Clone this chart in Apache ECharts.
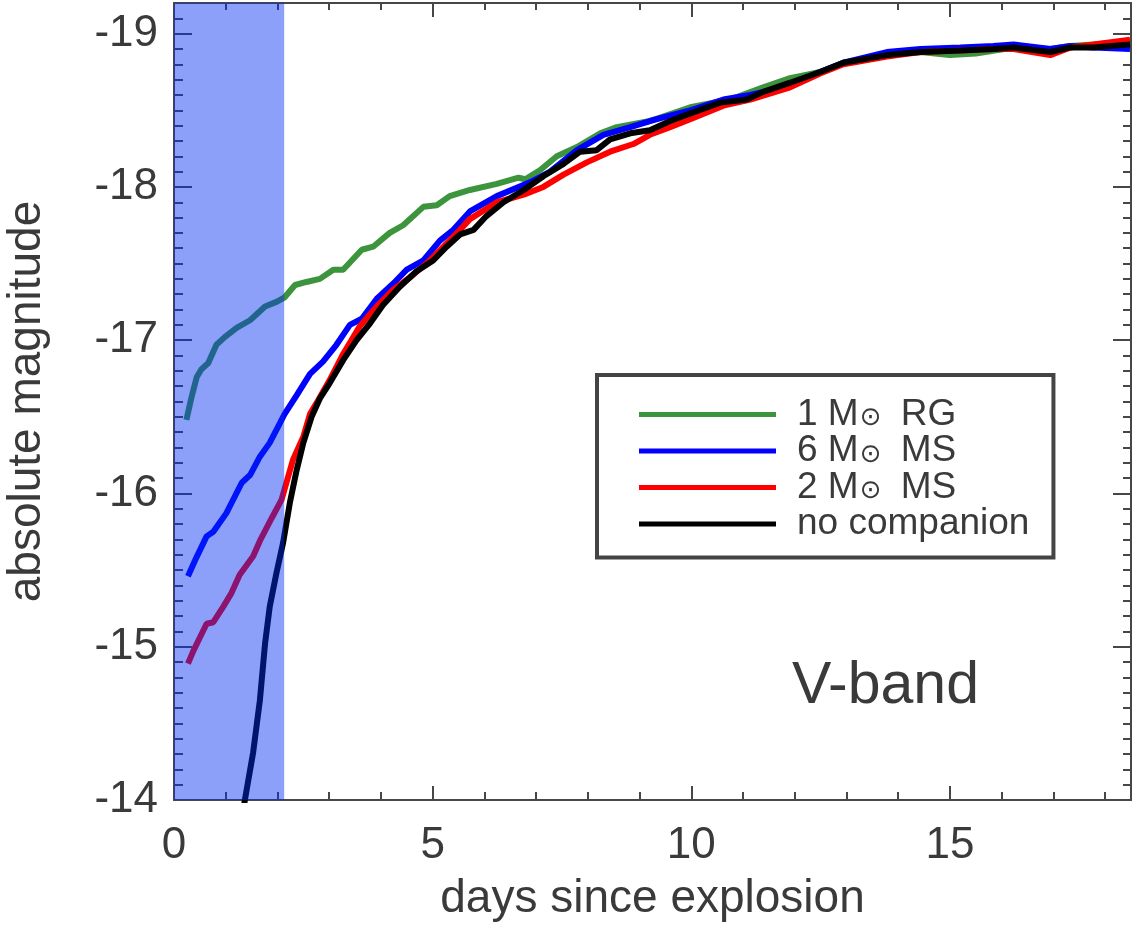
<!DOCTYPE html>
<html>
<head>
<meta charset="utf-8">
<script src="https://cdn.jsdelivr.net/npm/echarts@6/dist/echarts.min.js"></script>
<style>html,body{margin:0;padding:0;background:#fff;}#c{width:1135px;height:925px;}</style>
</head>
<body>
<div id="c"></div>
<script>
// ---- data ----
const seriesNames = ['1 M⊙ RG', '6 M⊙ MS', '2 M⊙ MS', 'no companion'];
const seriesColors = ['#3c943c', '#0000ff', '#ff0000', '#000000'];

const rgDays = [0.24,0.34,0.44,0.53,0.66,0.82,0.98,1.21,1.47,1.76,1.98,2.14,2.34,2.56,2.82,3.08,3.27,3.63,3.85,4.17,4.43,4.82,5.08,5.33,5.72,6.24,6.66,6.79,7.08,7.40,7.79,8.24,8.56,9.20,9.98,10.75,11.39,11.91,12.49,12.94,13.78,14.43,15.00,15.50,16.23,16.94,17.33,17.78,18.48];
const rgMag  = [-16.48,-16.63,-16.76,-16.81,-16.85,-16.97,-17.02,-17.08,-17.13,-17.22,-17.25,-17.28,-17.36,-17.38,-17.40,-17.46,-17.46,-17.59,-17.61,-17.70,-17.75,-17.87,-17.88,-17.94,-17.98,-18.02,-18.06,-18.05,-18.11,-18.20,-18.26,-18.35,-18.39,-18.43,-18.52,-18.57,-18.65,-18.71,-18.75,-18.81,-18.86,-18.88,-18.86,-18.87,-18.91,-18.90,-18.92,-18.93,-18.95];

const ms6Days = [0.27,0.43,0.63,0.76,1.01,1.31,1.47,1.66,1.85,2.05,2.14,2.37,2.63,2.88,3.14,3.40,3.63,3.92,4.24,4.50,4.82,5.14,5.40,5.72,6.24,6.88,7.27,7.79,8.30,8.82,9.20,9.53,9.98,10.62,11.14,11.91,12.49,12.94,13.78,14.43,15.20,15.84,16.23,16.94,17.33,17.78,18.48];
const ms6Mag  = [-15.46,-15.58,-15.72,-15.75,-15.87,-16.07,-16.12,-16.24,-16.33,-16.46,-16.52,-16.64,-16.78,-16.86,-16.97,-17.10,-17.14,-17.27,-17.37,-17.46,-17.52,-17.65,-17.72,-17.84,-17.94,-18.03,-18.10,-18.24,-18.34,-18.39,-18.43,-18.46,-18.50,-18.57,-18.60,-18.66,-18.75,-18.81,-18.88,-18.90,-18.91,-18.92,-18.93,-18.90,-18.92,-18.91,-18.90];

const ms2Days = [0.27,0.37,0.63,0.76,0.95,1.11,1.27,1.53,1.66,1.89,2.08,2.30,2.50,2.63,2.79,3.01,3.27,3.59,3.92,4.24,4.56,4.88,5.21,5.53,5.72,6.24,6.76,7.14,7.53,7.98,8.43,8.88,9.20,9.59,10.04,10.62,11.14,11.91,12.49,12.94,13.78,14.43,15.20,15.84,16.23,16.94,17.33,17.78,18.48];
const ms2Mag  = [-14.89,-14.97,-15.15,-15.16,-15.26,-15.35,-15.47,-15.59,-15.69,-15.84,-15.96,-16.22,-16.37,-16.52,-16.61,-16.74,-16.91,-17.09,-17.22,-17.33,-17.41,-17.50,-17.61,-17.72,-17.79,-17.90,-17.95,-18.00,-18.08,-18.16,-18.23,-18.28,-18.34,-18.39,-18.45,-18.53,-18.57,-18.65,-18.74,-18.80,-18.85,-18.88,-18.89,-18.90,-18.90,-18.86,-18.91,-18.93,-18.96];

const noneDays = [1.25,1.37,1.53,1.66,1.76,1.85,1.98,2.11,2.24,2.37,2.50,2.66,2.82,3.01,3.27,3.53,3.79,4.04,4.37,4.69,5.01,5.27,5.53,5.79,6.04,6.37,6.76,7.14,7.53,7.85,8.17,8.43,8.82,9.20,9.59,9.98,10.56,11.07,11.39,11.91,12.49,12.94,13.78,14.43,15.20,15.84,16.23,16.94,17.33,17.78,18.48];
const noneMag  = [-13.75,-14.00,-14.31,-14.65,-15.02,-15.26,-15.48,-15.68,-15.94,-16.15,-16.33,-16.50,-16.62,-16.72,-16.87,-17.00,-17.11,-17.23,-17.35,-17.45,-17.52,-17.61,-17.69,-17.72,-17.81,-17.90,-17.98,-18.07,-18.15,-18.23,-18.24,-18.31,-18.35,-18.37,-18.43,-18.48,-18.55,-18.57,-18.62,-18.68,-18.75,-18.81,-18.86,-18.88,-18.89,-18.90,-18.91,-18.88,-18.91,-18.91,-18.93];

const shadeRange = [0, 2.13];   // early-time shaded interval (days)
const xRange = [0, 18.5];
const yRange = [-19.2, -14];
const xMajor = [0, 5, 10, 15];
const xMinor = [1,2,3,4,6,7,8,9,11,12,13,14,16,17,18];
const yMajor = [-19, -18, -17, -16, -15, -14];
const yMinor = [];
for (let i = 0; i <= 52; i++) { const v = Math.round((-19.2 + i * 0.1) * 10) / 10; if (Math.abs(v - Math.round(v)) > 1e-6) yMinor.push(v); }

// ---- chart ----
const FONT = 'Liberation Sans';
const TXT = '#3a3a3a';
const AX = '#474747';
const chart = echarts.init(document.getElementById('c'), null, {renderer: 'canvas'});

function zip(xs, ys) { return xs.map((x, i) => [x, ys[i]]); }
const allData = [zip(rgDays, rgMag), zip(ms6Days, ms6Mag), zip(ms2Days, ms2Mag), zip(noneDays, noneMag)];

function xAx(pos, ticks, len, withLabel, withLine) {
  return {
    type: 'value', position: pos, min: xRange[0], max: xRange[1],
    axisLine: {show: withLine, onZero: false, lineStyle: {color: AX, width: 2}},
    axisTick: {show: true, inside: true, length: len, customValues: ticks, lineStyle: {color: AX, width: 2}},
    axisLabel: withLabel ? {show: true, customValues: xMajor, margin: 24, fontSize: 44, fontFamily: FONT, color: TXT} : {show: false},
    splitLine: {show: false},
    name: withLabel ? 'days since explosion' : '',
    nameLocation: 'middle', nameGap: 76,
    nameTextStyle: {fontSize: 46, fontFamily: FONT, color: TXT}
  };
}
function yAx(pos, ticks, len, withLabel, withLine) {
  return {
    type: 'value', position: pos, min: yRange[0], max: yRange[1], inverse: true,
    axisLine: {show: withLine, onZero: false, lineStyle: {color: AX, width: 2}},
    axisTick: {show: true, inside: true, length: len, customValues: ticks, lineStyle: {color: AX, width: 2}},
    axisLabel: withLabel ? {show: true, customValues: yMajor, margin: 16, fontSize: 44, fontFamily: FONT, color: TXT} : {show: false},
    splitLine: {show: false},
    name: withLabel ? 'absolute magnitude' : '',
    nameLocation: 'middle', nameGap: 124, nameRotate: 90,
    nameTextStyle: {fontSize: 46, fontFamily: FONT, color: TXT}
  };
}

const series = seriesNames.map((n, i) => ({
  name: n, type: 'line', data: allData[i], xAxisIndex: 0, yAxisIndex: 0,
  symbol: 'none', showSymbol: false, smooth: false, clip: true,
  lineStyle: {color: seriesColors[i], width: 6}, itemStyle: {color: seriesColors[i]},
  z: 3 + i
}));
series.push({
  name: 'shade', type: 'line', data: [], xAxisIndex: 0, yAxisIndex: 0, z: 20,
  markArea: {silent: true, z: 20, itemStyle: {color: 'rgba(0,45,245,0.45)'}, data: [[{xAxis: shadeRange[0]}, {xAxis: shadeRange[1]}]]}
});

chart.setOption({
  backgroundColor: '#fff',
  animation: false,
  grid: {left: 174, right: 4, top: 3, bottom: 125, containLabel: false, outerBoundsMode: 'none'},
  title: {text: 'V-band', left: 792, top: 657, padding: 0, textStyle: {fontSize: 59, fontWeight: 'normal', fontFamily: FONT, color: TXT}},
  legend: {
    data: seriesNames, orient: 'vertical', left: 597, top: 375,
    padding: [21, 24, 15, 42], itemWidth: 137, itemHeight: 5, itemGap: -0.5, icon: 'rect',
    borderColor: '#444', borderWidth: 4, backgroundColor: '#fff',
    selectedMode: false,
    formatter: n => n.replace('⊙', '{s|⊙}'),
    textStyle: {fontSize: 37, lineHeight: 34, fontFamily: FONT, color: TXT, padding: [0, 0, 0, 16],
      rich: {s: {fontSize: 26, fontFamily: 'DejaVu Sans', color: TXT, lineHeight: 26, padding: [8, 9, 0, 1]}}}
  },
  xAxis: [xAx('bottom', xMajor, 14, true, true), xAx('bottom', xMinor, 8, false, false), xAx('top', xMajor, 14, false, true), xAx('top', xMinor, 7, false, false)],
  yAxis: [yAx('left', yMajor, 18, true, true), yAx('left', yMinor, 9, false, false), yAx('right', yMajor, 18, false, true), yAx('right', yMinor, 8, false, false)],
  series: series
});
</script>
</body>
</html>
